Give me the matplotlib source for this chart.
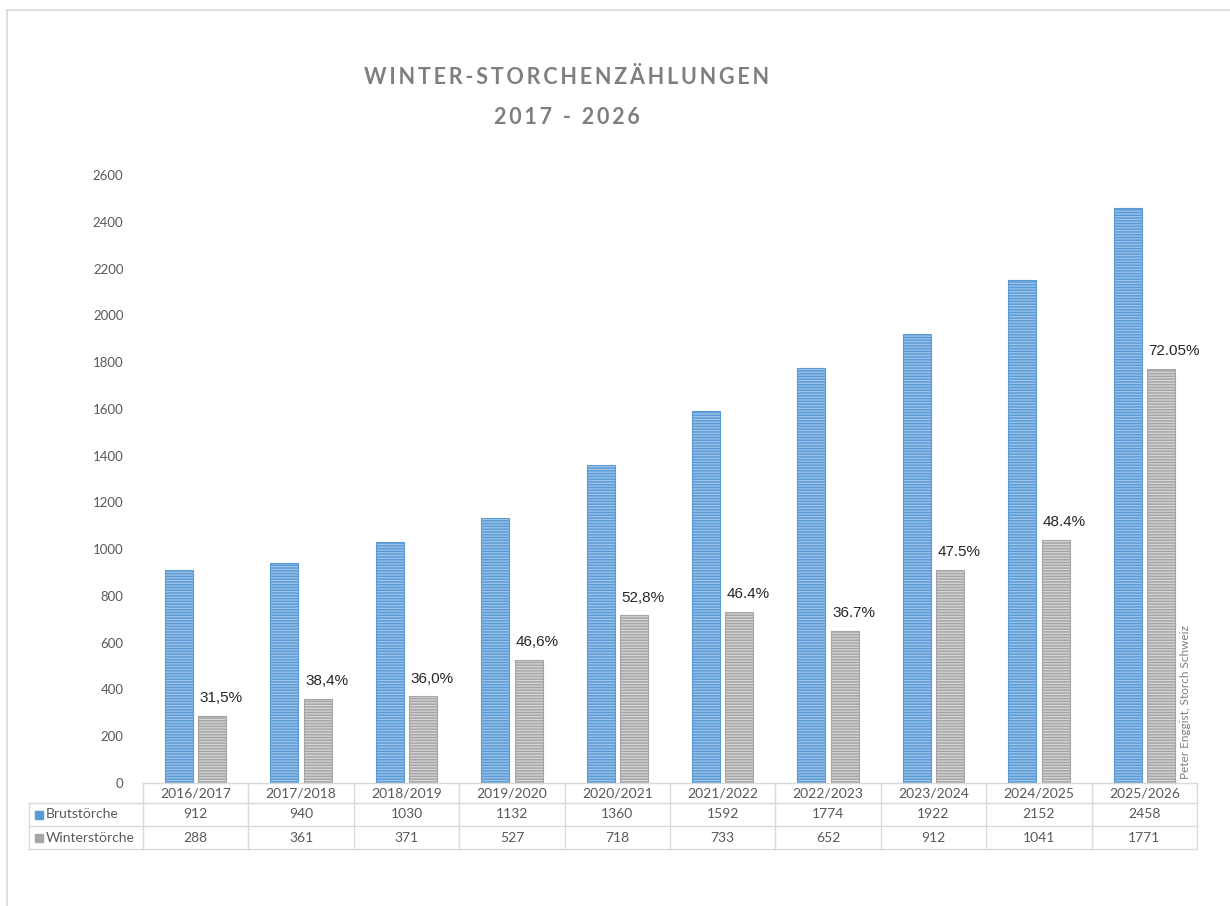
import numpy as np
import matplotlib
matplotlib.use('Agg')
import matplotlib.pyplot as plt
import matplotlib.transforms as mtransforms
from matplotlib.lines import Line2D
from matplotlib.patches import Rectangle

# data
seasons = ['2016/2017', '2017/2018', '2018/2019', '2019/2020', '2020/2021',
           '2021/2022', '2022/2023', '2023/2024', '2024/2025', '2025/2026']
brut = [912, 940, 1030, 1132, 1360, 1592, 1774, 1922, 2152, 2458]
winter = [288, 361, 371, 527, 718, 733, 652, 912, 1041, 1771]
pct_labels = ['31,5%', '38,4%', '36,0%', '46,6%', '52,8%',
              '46.4%', '36.7%', '47.5%', '48.4%', '72.05%']
series_names = ['Brutstörche', 'Winterstörche']
yticks = list(range(0, 2601, 200))

plt.rcParams['font.family'] = ['Lato', 'DejaVu Sans']
plt.rcParams['hatch.linewidth'] = 1.1

txt_grey = '#595959'
line_grey = '#d9d9d9'
blue_face, blue_hatch = '#9fc4ea', '#5b9bd5'
grey_face, grey_hatch = '#d6d6d6', '#a5a5a5'

fig = plt.figure(figsize=(12.3, 9.06), dpi=100)
ax = fig.add_axes([143 / 1230, 1 - 783 / 906, 1054 / 1230, 608 / 906])

x = np.arange(len(seasons))
off, w = 0.158, 0.265
ax.bar(x - off, brut, w, color=blue_face, edgecolor=blue_hatch, linewidth=0, hatch='------')
ax.bar(x - off, brut, w, fill=False, edgecolor=blue_hatch, linewidth=0.8)
ax.bar(x + off, winter, w, color=grey_face, edgecolor=grey_hatch, linewidth=0, hatch='------')
ax.bar(x + off, winter, w, fill=False, edgecolor=grey_hatch, linewidth=0.8)

for i, lab in enumerate(pct_labels):
    ax.annotate(lab, (x[i] + off - w / 2, winter[i]), xytext=(1, 12.5),
                textcoords='offset points', ha='left', va='center',
                fontsize=11, color='#262626', family=['Liberation Sans'])

ax.set_xlim(-0.5, len(seasons) - 0.5)
ax.set_ylim(0, 2600)
ax.set_yticks(yticks)
ax.set_xticks([])
ax.tick_params(axis='y', length=0, pad=14, labelsize=9.5, labelcolor=txt_grey)
for s in ax.spines.values():
    s.set_visible(False)

# data table below the plot
tr = mtransforms.blended_transform_factory(ax.transData, ax.transAxes)
r0, r1, r2, r3 = 0.0, -20 / 608, -43 / 608, -66 / 608
xl = -0.5 - 114 / 105.4
xr = len(seasons) - 0.5
lines = [([-0.5, xr], [r0, r0]), ([xl, xr], [r1, r1]), ([xl, xr], [r2, r2]),
         ([xl, xr], [r3, r3]), ([xl, xl], [r1, r3])]
for k in range(len(seasons) + 1):
    lines.append(([k - 0.5, k - 0.5], [r0, r3]))
for xs, ys in lines:
    ax.add_line(Line2D(xs, ys, transform=tr, color=line_grey, lw=1, clip_on=False))

for i in range(len(seasons)):
    ax.text(x[i], (r0 + r1) / 2, seasons[i], transform=tr, ha='center', va='center',
            fontsize=10, color=txt_grey)
    ax.text(x[i], (r1 + r2) / 2, str(brut[i]), transform=tr, ha='center', va='center',
            fontsize=10, color=txt_grey)
    ax.text(x[i], (r2 + r3) / 2, str(winter[i]), transform=tr, ha='center', va='center',
            fontsize=10, color=txt_grey)

for name, col, (ya, yb) in zip(series_names, [blue_hatch, grey_hatch], [(r1, r2), (r2, r3)]):
    ax.add_patch(Rectangle((xl + 6 / 105.4, (ya + yb) / 2 - 4 / 608), 8 / 105.4, 8 / 608,
                           transform=tr, color=col, clip_on=False))
    ax.text(xl + 17 / 105.4, (ya + yb) / 2, name, transform=tr, ha='left', va='center',
            fontsize=10, color=txt_grey)

# watermark
ax.text(x[-1] + off + w / 2 + 0.05, 15, 'Peter Enggist, Storch Schweiz', rotation=90,
        ha='left', va='bottom', fontsize=8.5, color='#7f7f7f')

# title with letter spacing
title1 = '\u2009'.join('WINTER-STORCHENZÄHLUNGEN')
title2 = '\u2009'.join('2017 - 2026')
fig.text(567 / 1230, 1 - 78 / 906, title1, ha='center', va='center', fontsize=15.5,
         fontweight='bold', color='#7f7f7f')
fig.text(567 / 1230, 1 - 118 / 906, title2, ha='center', va='center', fontsize=15.5,
         fontweight='bold', color='#7f7f7f')

# outer frame
fig.add_artist(Line2D([7 / 1230, 1], [1 - 10 / 906, 1 - 10 / 906], transform=fig.transFigure,
                      color=line_grey, lw=1.2))
fig.add_artist(Line2D([7 / 1230, 7 / 1230], [0, 1 - 10 / 906], transform=fig.transFigure,
                      color=line_grey, lw=1.2))

fig.savefig('out.png', dpi=100)
